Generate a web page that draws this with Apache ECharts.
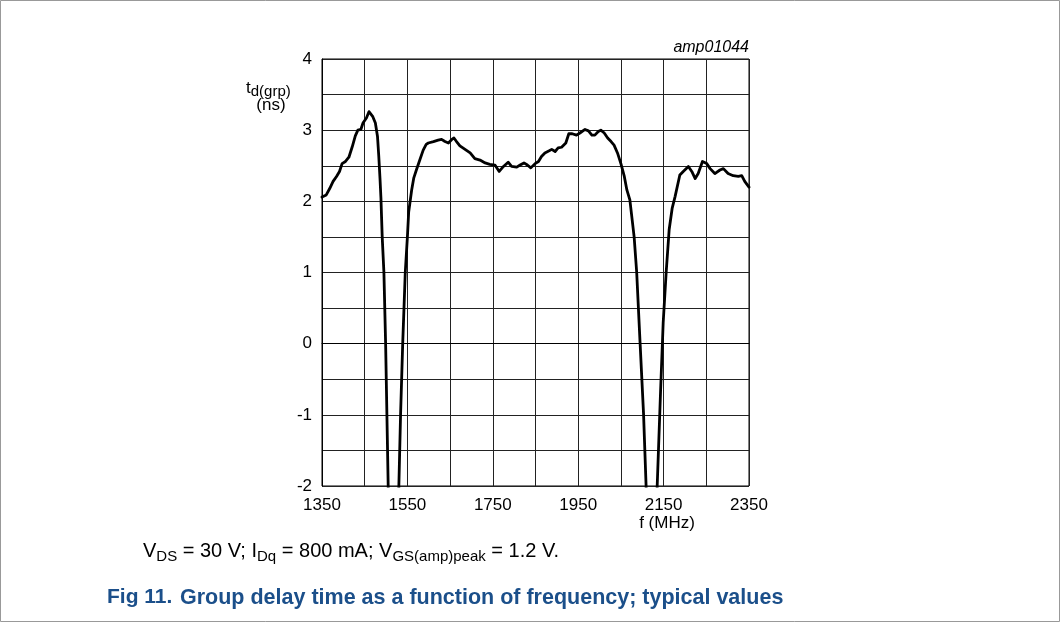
<!DOCTYPE html>
<html>
<head>
<meta charset="utf-8">
<script src="https://cdn.jsdelivr.net/npm/echarts@6/dist/echarts.min.js"></script>
<style>
html,body{margin:0;padding:0;background:#fff;}
#c{width:1061px;height:642px;}
</style>
</head>
<body>
<div id="c"></div>
<script>
// Frequency (MHz)
const freq = [1350,1360,1368,1376,1384,1391,1397,1405,1413,1421,1428,1434,1441,1446,1454,1460,1464,1469,1475,1480,1483,1486,1488,1491,1495,1499,1502,1505,1508,
1527,1530,1534,1539,1545,1550,1553,1560,1565,1571,1579,1587,1594,1599,1611,1622,1630,1638,1646,1654,1659,1665,1673,1685,1697,1708,1720,1732,1743,1755,1765,1775,1786,1794,1806,1814,1823,1831,1839,1849,1857,1864,1872,1882,1888,1896,1903,1911,1921,1928,1936,1946,1954,1966,1974,1982,1989,1997,2003,2011,2019,2027,2034,2042,2050,2058,2064,2071,2081,2087,2095,2103,2109,2112,
2129,2135,2143,2149,2156,2163,2170,2177,2188,2196,2208,2216,2224,2231,2241,2251,2259,2270,2282,2290,2301,2313,2325,2333,2340,2350];
// Group delay (ns)
const delay = [2.06,2.09,2.18,2.28,2.35,2.42,2.53,2.56,2.62,2.77,2.92,3.00,3.01,3.10,3.17,3.26,3.27,3.19,3.10,2.91,2.63,2.30,2.05,1.50,1.00,0.00,-1.00,-2.00,-3.0,
-3.0,-2.00,-1.00,0.00,1.00,1.50,1.85,2.16,2.33,2.44,2.58,2.72,2.80,2.82,2.84,2.86,2.87,2.84,2.82,2.87,2.89,2.84,2.78,2.73,2.68,2.60,2.58,2.54,2.52,2.51,2.42,2.49,2.55,2.49,2.48,2.51,2.54,2.51,2.47,2.53,2.56,2.63,2.68,2.71,2.73,2.70,2.75,2.76,2.82,2.95,2.95,2.93,2.96,3.01,2.99,2.93,2.93,2.98,3.00,2.96,2.89,2.84,2.79,2.68,2.53,2.35,2.16,2.02,1.50,1.00,0.00,-0.98,-2.00,-3.0,
-3.0,-2.00,-0.65,0.29,1.00,1.60,1.90,2.07,2.37,2.42,2.49,2.42,2.32,2.39,2.56,2.53,2.46,2.39,2.44,2.46,2.39,2.36,2.35,2.36,2.28,2.20];
const xLabels = [1350,1550,1750,1950,2150,2350];
const yLabels = [-2,-1,0,1,2,3,4];

const FONT = 'Liberation Sans';
const chart = echarts.init(document.getElementById('c'), null, {renderer:'canvas'});
const pts = freq.map((f,i)=>[f,delay[i]]);
chart.setOption({
  animation:false,
  backgroundColor:'#fff',
  grid:{left:322,right:312,top:59,bottom:156,show:true,borderColor:'#000',borderWidth:1},
  xAxis:{type:'value',min:1350,max:2350,interval:100,
    axisLine:{show:true,lineStyle:{color:'#000',width:1}},
    axisTick:{show:false},
    splitLine:{show:true,lineStyle:{color:'#222',width:1}},
    axisLabel:{color:'#000',fontFamily:FONT,fontSize:17,margin:11,
      formatter:v=> xLabels.includes(v) ? String(v) : ''}
  },
  yAxis:{type:'value',min:-2,max:4,interval:0.5,
    axisLine:{show:true,lineStyle:{color:'#000',width:1}},
    axisTick:{show:false},
    splitLine:{show:true,lineStyle:{color:'#222',width:1}},
    axisLabel:{color:'#000',fontFamily:FONT,fontSize:17,margin:10,
      formatter:v=> yLabels.includes(v) ? String(v) : ''}
  },
  series:[{type:'line',data:pts,showSymbol:false,symbol:'none',clip:true,
    lineStyle:{color:'#000',width:2.8,join:'round',cap:'round'}}],
  graphic:[
    {type:'rect',shape:{x:0.5,y:0.5,width:1059,height:621},style:{fill:'none',stroke:'#999',lineWidth:1},silent:true},
    {type:'text',x:246,y:77,style:{text:'{a|t}{s|d(grp)}',align:'left',fontFamily:FONT,
      rich:{a:{fontSize:17,fontFamily:FONT,lineHeight:22,verticalAlign:'middle',fill:'#000'},
            s:{fontSize:15,fontFamily:FONT,lineHeight:22,verticalAlign:'bottom',fill:'#000'}}}},
    {type:'text',x:271,y:105,style:{text:'(ns)',align:'center',verticalAlign:'middle',fontFamily:FONT,fontSize:17,fill:'#000'}},
    {type:'text',x:749,y:48,style:{text:'amp01044',align:'right',verticalAlign:'middle',fontFamily:FONT,fontSize:16,fontStyle:'italic',fill:'#000'}},
    {type:'text',x:667,y:515,style:{text:'f (MHz)',align:'center',fontFamily:FONT,fontSize:17,fill:'#000'}},
    {type:'text',x:143,y:538,style:{text:'{a|V}{s|DS}{a| = 30 V; I}{s|Dq}{a| = 800 mA; V}{s|GS(amp)peak}{a| = 1.2 V.}',fontFamily:FONT,
      rich:{a:{fontSize:20,fontFamily:FONT,lineHeight:26,verticalAlign:'middle',fill:'#000'},
            s:{fontSize:15,fontFamily:FONT,lineHeight:26,verticalAlign:'bottom',fill:'#000'}}}},
    {type:'text',x:107,y:587,style:{text:'Fig 11.',fontFamily:FONT,fontSize:21,fontWeight:'bold',fill:'#1b4f8a'}},
    {type:'text',x:180,y:587,style:{text:'Group delay time as a function of frequency; typical values',fontFamily:FONT,fontSize:21.5,fontWeight:'bold',fill:'#1b4f8a'}}
  ]
});
</script>
</body>
</html>
